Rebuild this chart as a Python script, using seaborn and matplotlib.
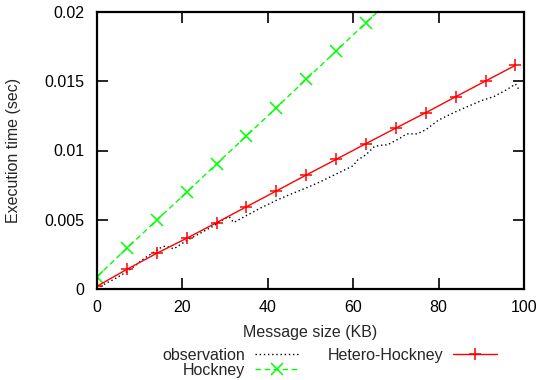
import numpy as np
import pandas as pd
import matplotlib
matplotlib.use("Agg")
import matplotlib.pyplot as plt
import seaborn as sns

# ---- data ----
obs_x = [0, 2, 4, 7, 9, 11, 13, 15, 16, 18, 21, 24, 27, 30, 31, 32, 35, 38, 42, 45,
         49, 52, 56, 58, 60, 61, 63, 65, 67, 68, 71, 72.5, 75, 77, 80, 84, 87, 90, 93,
         96, 98, 99]
obs_y = [0.0000, 0.0004, 0.0007, 0.00125, 0.0017, 0.0022, 0.0026, 0.0030, 0.0031, 0.0029,
         0.0035, 0.0040, 0.0045, 0.0051, 0.0052, 0.0048, 0.0053, 0.0058, 0.0064, 0.0068,
         0.0073, 0.0077, 0.0083, 0.0086, 0.0089, 0.0093, 0.0097, 0.0103, 0.0104, 0.0104,
         0.0109, 0.0112, 0.0112, 0.0115, 0.0122, 0.0128, 0.0132, 0.0136, 0.0139,
         0.0144, 0.0148, 0.0143]

model_x = [0, 7, 14, 21, 28, 35, 42, 49, 56, 63, 70, 77, 84, 91, 98]
hockney_y = [0.00089, 0.00294, 0.00498, 0.00698, 0.00903, 0.01105, 0.01309, 0.01514,
             0.01718, 0.01923, 0.02127, 0.0233, 0.0253, 0.0274, 0.0294]
hetero_y = [0.0002, 0.00142, 0.00258, 0.00366, 0.00479, 0.00594, 0.00708, 0.00823,
            0.00936, 0.0105, 0.01162, 0.01273, 0.01388, 0.01502, 0.01615]

x_ticks = [0, 20, 40, 60, 80, 100]
x_tick_labels = ["0", "20", "40", "60", "80", "100"]
y_ticks = [0, 0.005, 0.01, 0.015, 0.02]
y_tick_labels = ["0", "0.005", "0.01", "0.015", "0.02"]

# ---- style ----
sns.set_theme(style="ticks")
plt.rcParams["font.family"] = ["Liberation Sans", "DejaVu Sans"]
FS = 11.5
plt.rcParams["font.size"] = FS

fig = plt.figure(figsize=(5.39, 3.80), dpi=100)
ax = fig.add_axes([97 / 539, 91 / 380, 427 / 539, 277 / 380])

obs_df = pd.DataFrame({"x": obs_x, "y": obs_y})
mod_df = pd.DataFrame({"x": model_x, "hockney": hockney_y, "hetero": hetero_y})

GREEN = "#00ff00"
sns.lineplot(data=obs_df, x="x", y="y", ax=ax, color="black", linestyle=(0, (1, 2)),
             linewidth=1.0, label="observation", sort=False)
sns.lineplot(data=mod_df, x="x", y="hockney", ax=ax, color=GREEN, linestyle=(0, (4, 2.5)),
             linewidth=1.0, marker="x", markersize=8, markeredgewidth=1.1,
             markeredgecolor=GREEN, label="Hockney")
sns.lineplot(data=mod_df, x="x", y="hetero", ax=ax, color="#ff0000", linestyle="-",
             linewidth=1.0, marker="+", markersize=9, markeredgewidth=1.1,
             markeredgecolor="#ff0000", label="Hetero-Hockney")

ax.set_xlim(0, 100)
ax.set_ylim(0, 0.02)
ax.set_xticks(x_ticks)
ax.set_xticklabels(x_tick_labels)
ax.set_yticks(y_ticks)
ax.set_yticklabels(y_tick_labels)
ax.tick_params(axis="both", direction="in", length=8, width=1.2, top=True, right=True,
               labelsize=FS, colors="black")
ax.tick_params(axis="y", pad=9)
ax.tick_params(axis="x", pad=8)
for s in ax.spines.values():
    s.set_visible(True)
    s.set_linewidth(1.6)
    s.set_color("black")

ax.set_xlabel("Message size (KB)", fontsize=FS, labelpad=7)
ax.set_ylabel("Execution time (sec)", fontsize=FS, labelpad=17)

leg = ax.legend(loc="upper center", ncol=2, markerfirst=False, frameon=False, fontsize=FS,
                handlelength=2.8, handletextpad=0.6, columnspacing=1.75,
                labelspacing=0.0, borderpad=0.0)
leg.set_bbox_to_anchor((0.612, 0.105), transform=fig.transFigure)

fig.savefig("out.png", dpi=100)
